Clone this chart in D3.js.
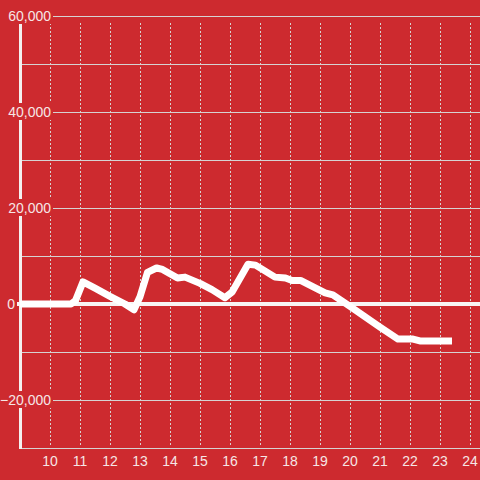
<!DOCTYPE html>
<html>
<head>
<meta charset="utf-8">
<script src="https://cdn.jsdelivr.net/npm/d3@7"></script>
<style>
html,body{margin:0;padding:0;background:#cd2a2f;}
svg{display:block;}
text{font-family:"Liberation Sans",Arial,sans-serif;}
</style>
</head>
<body>
<script>
const xTicks = [10,11,12,13,14,15,16,17,18,19,20,21,22,23,24];
const yGrid = [-30000,-20000,-10000,10000,20000,30000,40000,50000,60000];
const yLabels = [60000,40000,20000,0,-20000];
const xs = [9,10.7,10.85,11.1,11.5,12.0,12.5,12.8,13.0,13.25,13.55,13.75,14.25,14.5,15.0,15.4,15.83,16.07,16.6,16.85,17.5,17.85,18.07,18.35,19.17,19.43,20.0,21.0,21.6,22.1,22.33,23.4];
const vals = [0,0,700,4600,3300,1600,0,-1200,1500,6600,7500,7200,5400,5600,4300,3000,1300,2500,8300,8100,5600,5400,4900,4900,2300,1900,-500,-4800,-7300,-7300,-7700,-7700];

const W=480,H=480,bg="#cd2a2f",gridCol="#d6d2d2",txtCol="#f6e6e6";
const svg=d3.select("body").append("svg").attr("width",W).attr("height",H);
svg.append("rect").attr("width",W).attr("height",H).attr("fill",bg);

const x=d3.scaleLinear().domain([9,25]).range([20,500]);
const y=d3.scaleLinear().domain([-30000,60000]).range([448,16]);

// vertical dotted grid
svg.append("g").selectAll("line").data(xTicks).join("line")
  .attr("x1",d=>x(d)+0.5).attr("x2",d=>x(d)+0.5)
  .attr("y1",y(60000)+7).attr("y2",y(-30000)-1)
  .attr("stroke",gridCol).attr("stroke-width",1).attr("stroke-dasharray","2,2");

// horizontal grid
svg.append("g").selectAll("line").data(yGrid).join("line")
  .attr("x1",x(9)).attr("x2",W)
  .attr("y1",d=>y(d)+0.5).attr("y2",d=>y(d)+0.5)
  .attr("stroke",gridCol).attr("stroke-width",1);

// y axis line
svg.append("line").attr("x1",x(9)+0.5).attr("x2",x(9)+0.5)
  .attr("y1",y(60000)).attr("y2",y(-30000)+1)
  .attr("stroke","#f4f0f0").attr("stroke-width",3);

// y labels with background boxes
const fmt=d3.format(",");
const lg=svg.append("g");
yLabels.forEach(v=>{
  const endX = v===0 ? 15 : 51;
  const t=lg.append("text").attr("x",endX).attr("y",y(v)+1)
    .attr("text-anchor","end").attr("dominant-baseline","middle")
    .attr("font-size",14).attr("fill",txtCol).text(fmt(v));
  const bb=t.node().getBBox();
  lg.insert("rect","text").attr("x",0).attr("y",y(v)-9)
    .attr("width",endX+2).attr("height",17).attr("fill",bg);
});

// zero line
svg.append("line").attr("x1",17).attr("x2",W)
  .attr("y1",y(0)).attr("y2",y(0))
  .attr("stroke","#f8f4f4").attr("stroke-width",4);

// x labels
svg.append("g").selectAll("text").data(xTicks).join("text")
  .attr("x",d=>x(d)).attr("y",462).attr("text-anchor","middle")
  .attr("dominant-baseline","middle").attr("font-size",14)
  .attr("fill",txtCol).text(d=>d);

// data line
const pts=xs.map((d,i)=>[d,vals[i]]);
svg.append("path").datum(pts)
  .attr("d",d3.line().x(d=>x(d[0])).y(d=>y(d[1])))
  .attr("fill","none").attr("stroke","#ffffff").attr("stroke-width",7)
  .attr("stroke-linejoin","round");
</script>
</body>
</html>
